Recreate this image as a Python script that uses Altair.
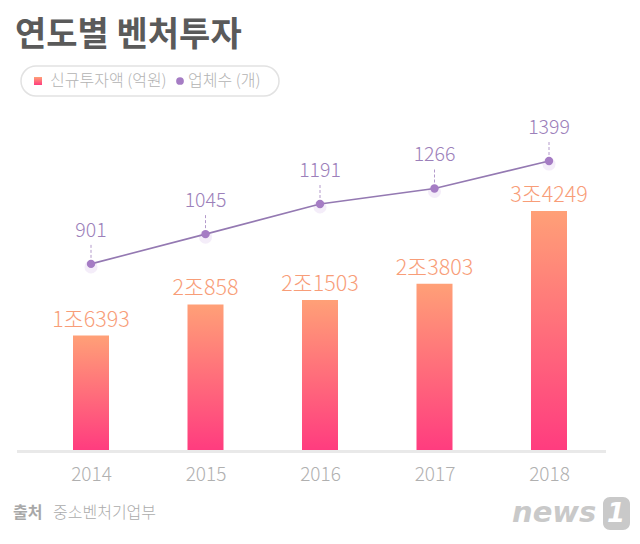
import altair as alt
import pandas as pd

# ---- data ----
years = ["2014", "2015", "2016", "2017", "2018"]
invest = [16393, 20858, 21503, 23803, 34249]          # 억원
invest_labels = ["1조6393", "2조858", "2조1503", "2조3803", "3조4249"]
companies = [901, 1045, 1191, 1266, 1399]             # 개

title_text = ["연도별 벤처투자"]
legend_texts = ["신규투자액 (억원)", "업체수 (개)"]
source_texts = ["출처", "중소벤처기업부"]
logo_texts = ["news", "1"]

df = pd.DataFrame({
    "year": years,
    "invest": invest,
    "invest_label": invest_labels,
    "n": companies,
})
one = pd.DataFrame({"k": [0]})

NUM_FONT = "Liberation Sans Narrow, Noto Sans CJK KR"
KR_FONT = "Noto Sans CJK KR"

x = alt.X("year:N", scale=alt.Scale(type="point", range=[74, 532], padding=0),
          axis=alt.Axis(title=None, domain=False, ticks=False, labelAngle=0,
                        labelPadding=15, labelFontSize=19, labelFont=NUM_FONT,
                        labelFontWeight=300, labelColor="#B0B0B0", grid=False))
yb = alt.Y("invest:Q", scale=alt.Scale(domain=[0, 48700]), axis=None)
yl = alt.Y("n:Q", scale=alt.Scale(domain=[0, 1646]), axis=None)

grad = alt.Gradient(
    gradient="linear",
    stops=[alt.GradientStop(color="#FFA077", offset=0),
           alt.GradientStop(color="#FF3C7F", offset=1)],
    x1=0, x2=0, y1=0, y2=1,
)

base = alt.Chart(df)

baseline = alt.Chart(one).mark_rule(color="#E9E9E9", strokeWidth=3).encode(
    x=alt.value(0), x2=alt.value(589), y=alt.value(341.5))

bars = base.mark_bar(size=36, fill=grad).encode(x=x, y=yb)
bar_text = base.mark_text(baseline="alphabetic", dy=-9, fontSize=21.5,
                          font=NUM_FONT, fontWeight=300, color="#F89D78").encode(
    x=x, y=yb, text="invest_label:N")

line_ = base.mark_line(color="#9479B2", strokeWidth=1.6).encode(x=x, y=yl)
glow = base.mark_circle(size=170, color="#D9C2EC", opacity=0.3, yOffset=3).encode(x=x, y=yl)
pts = base.mark_circle(size=70, color="#A57CC4", opacity=1).encode(x=x, y=yl)
dash = base.mark_rule(color="#B39ACB", strokeWidth=1, strokeDash=[3, 2],
                      yOffset=-6, y2Offset=-21).encode(x=x, y=yl, y2=alt.Y2("n:Q"))
line_text = base.mark_text(baseline="alphabetic", dy=-27, fontSize=19.5,
                           font=NUM_FONT, fontWeight=300, color="#9C80BA").encode(
    x=x, y=yl, text="n:Q")

# ---- title / legend / footer ----
title = alt.Chart(one).mark_text(align="left", baseline="middle", fontSize=34,
                                 fontWeight="bold", font=KR_FONT, color="#5A5A5A").encode(
    x=alt.value(-2), y=alt.value(-74), text=alt.value(title_text[0]))

pill = alt.Chart(one).mark_rect(cornerRadius=15, fill="white", stroke="#E2E2E2",
                                strokeWidth=1.5).encode(
    x=alt.value(4), x2=alt.value(262), y=alt.value(-44), y2=alt.value(-14))
sq = alt.Chart(one).mark_rect(fill=grad).encode(
    x=alt.value(17), x2=alt.value(25), y=alt.value(-33), y2=alt.value(-25))
leg1 = alt.Chart(one).mark_text(align="left", baseline="middle", fontSize=16,
                                font=KR_FONT, fontWeight=300, color="#B3B3B3").encode(
    x=alt.value(33), y=alt.value(-29), text=alt.value(legend_texts[0]))
dot = alt.Chart(one).mark_circle(size=60, color="#A57CC4", opacity=1).encode(
    x=alt.value(163), y=alt.value(-29))
leg2 = alt.Chart(one).mark_text(align="left", baseline="middle", fontSize=16,
                                font=KR_FONT, fontWeight=300, color="#B3B3B3").encode(
    x=alt.value(171), y=alt.value(-29), text=alt.value(legend_texts[1]))

src1 = alt.Chart(one).mark_text(align="left", baseline="middle", fontSize=16,
                                fontWeight="bold", font=KR_FONT, color="#A8A8A8").encode(
    x=alt.value(-4), y=alt.value(403), text=alt.value(source_texts[0]))
src2 = alt.Chart(one).mark_text(align="left", baseline="middle", fontSize=16,
                                fontWeight=300, font=KR_FONT, color="#ABABAB").encode(
    x=alt.value(36), y=alt.value(403), text=alt.value(source_texts[1]))

logo_box = alt.Chart(one).mark_rect(cornerRadius=7, fill="#C9C9C9").encode(
    x=alt.value(586), x2=alt.value(613), y=alt.value(387), y2=alt.value(420))
logo1 = alt.Chart(one).mark_text(align="left", baseline="alphabetic", fontSize=29,
                                 fontWeight="bold", fontStyle="italic", font="DejaVu Sans",
                                 color="#C9C9C9").encode(
    x=alt.value(495), y=alt.value(412), text=alt.value(logo_texts[0]))
logo2 = alt.Chart(one).mark_text(align="center", baseline="middle", fontSize=26,
                                 fontWeight="bold", fontStyle="italic", font="DejaVu Sans",
                                 color="white").encode(
    x=alt.value(599), y=alt.value(404), text=alt.value(logo_texts[1]))

chart = alt.layer(
    baseline, bars, bar_text, glow, line_, pts, dash, line_text,
    title, pill, sq, leg1, dot, leg2, src1, src2, logo_box, logo1, logo2,
).resolve_scale(y="independent").properties(
    width=589, height=340,
    padding={"left": 9, "top": 102, "right": 26, "bottom": 86},
    autosize=alt.AutoSizeParams(type="none"),
    background="white",
).configure_view(stroke=None)

chart.save("out.html", embed_options={"renderer": "svg", "actions": False})
